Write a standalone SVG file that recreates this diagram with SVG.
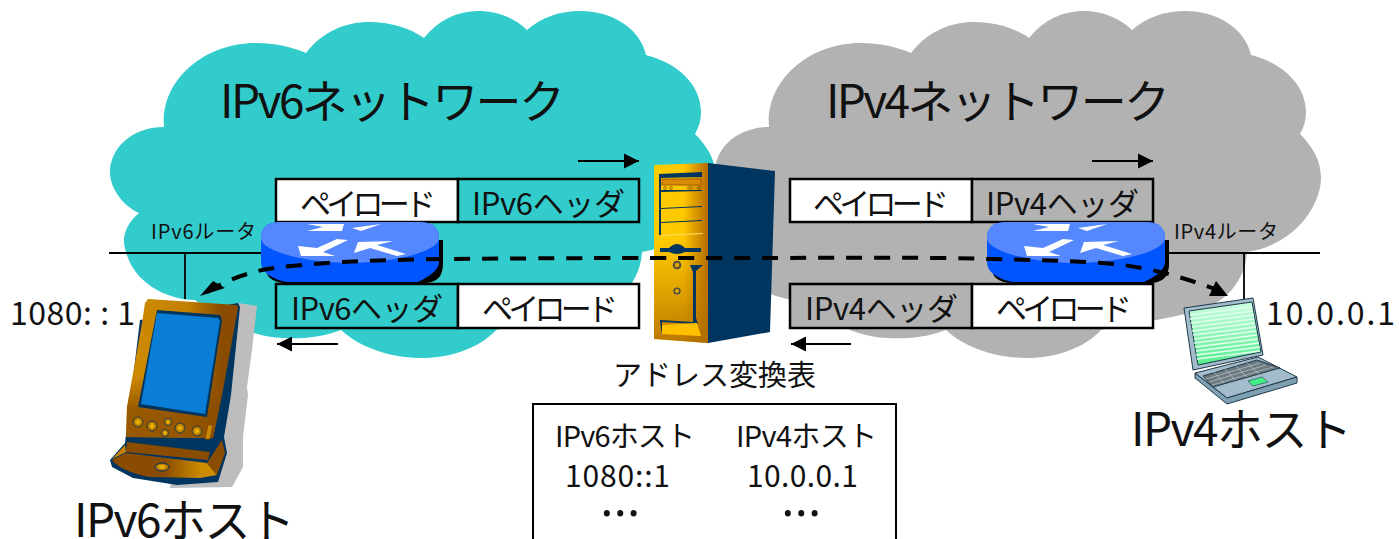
<svg xmlns="http://www.w3.org/2000/svg" width="1399" height="539" viewBox="0 0 1399 539">
<style>
text{font-family:"Noto Sans CJK JP","Noto Sans",sans-serif;fill:#111}
.box{stroke:#000;stroke-width:2.5}
.w{fill:#fff}.t{fill:#33cccc}.g{fill:#b2b2b2}
.hd{font-size:31px}.big{font-size:46px}.sm{font-size:20px}.tb{font-size:29px}.num{font-size:30px}.out{font-size:32px}
text.dots{font-family:"Open Sans",sans-serif;font-size:52px}
.wire{stroke:#000;stroke-width:1.8;fill:none}
.flow{stroke:#000;stroke-width:2;fill:none}
.dash{stroke:#000;stroke-width:4;fill:none;stroke-dasharray:16 12}
</style>
<defs>
<marker id="ah" markerUnits="userSpaceOnUse" markerWidth="16" markerHeight="16" refX="15" refY="8" orient="auto"><path d="M0,0.5L15,8L0,15.5z"/></marker>
<linearGradient id="gold" x1="0" x2="1" y1="0" y2="0"><stop offset="0" stop-color="#cf8c00"/><stop offset=".55" stop-color="#c28000"/><stop offset=".85" stop-color="#8a4c00"/></linearGradient>
<linearGradient id="goldv" x1="0" x2="0" y1="0" y2="1"><stop offset=".55" stop-color="#8a4c00" stop-opacity="0"/><stop offset=".8" stop-color="#8a4c00" stop-opacity=".8"/></linearGradient>
<linearGradient id="srv" x1="0" x2="1" y1="0" y2="0"><stop offset="0" stop-color="#ffcc00"/><stop offset=".55" stop-color="#ffc800"/><stop offset=".97" stop-color="#b87000"/></linearGradient>
<linearGradient id="srv2" x1="0" x2="0" y1="0" y2="1"><stop offset="0" stop-color="#c47e00" stop-opacity="0"/><stop offset="1" stop-color="#b06c00" stop-opacity=".9"/></linearGradient>
<linearGradient id="base" x1="0" x2="1" y1="0" y2="0"><stop offset="0" stop-color="#8a4c00"/><stop offset=".5" stop-color="#8a4c00"/><stop offset=".85" stop-color="#cc8c00"/></linearGradient>
<linearGradient id="lcd" x1="0" x2="0" y1="0" y2="1"><stop offset="0" stop-color="#ccffe0"/><stop offset="1" stop-color="#55ee8c"/></linearGradient>
<radialGradient id="btn"><stop offset="0" stop-color="#ffc800"/><stop offset="1" stop-color="#9a5c00"/></radialGradient>
<path id="cloud" d="M164,127C160,80 205,43 255,43C275,43 292,47 306,53C322,32 345,22 369,22C390,22 410,28 424,38C438,20 458,11 478,11C497,11 515,18 527,30C542,17 560,11 580,11C612,11 640,28 646,55C678,63 701,85 701,112C701,120 699,127 695,134C707,146 716,160 716,178C716,205 690,245 642,252C640,285 615,310 575,315C555,320 520,325 496,330C480,348 450,358 422,358C392,358 360,348 341,330C320,338 300,339 283,338C250,337 220,320 195,300C170,300 130,285 124,243C123,232 130,220 139,213C125,207 110,190 110,172C110,150 130,127 164,127z"/>
<g id="routerBody">
<path d="M4,18H182V42Q182,61 163,61H25Q4,61 4,42z" fill="#000"/>
<path d="M0,16Q0,0 20,0H158Q178,0 178,16V40Q178,50 157,60H25Q0,54 0,40z" fill="#0055ff"/>
<path d="M0,16Q0,0 20,0H158Q178,0 178,16C178,30 130,41 89,41C48,41 0,30 0,16z" fill="#5588ff"/>
<path fill="#fff" d="M37,24L56,26L76,17L87,18L62,30L74,34L40,34zM97,20L132,19L116,23L145,32L136,34L109,26L93,31zM46,2H83L81,9H46L62,5zM91,6L120,2L100,9z"/>
</g>
</defs>

<g id="cloud-ipv4"><use href="#cloud" class="g" x="605"/></g>
<g id="cloud-ipv6"><use href="#cloud" class="t"/></g>

<g id="label-ipv6-network"><text x="220" y="118" font-size="46" textLength="345">IPv6ネットワーク</text></g>
<g id="label-ipv4-network"><text x="826" y="118" font-size="46" textLength="344">IPv4ネットワーク</text></g>

<g id="packet-ipv6-out">
<rect class="box w" x="276" y="179" width="182" height="43"/><rect class="box t" x="458" y="179" width="181" height="43"/>
<text class="hd" x="300" y="215" textLength="136">ペイロード</text><text class="hd" x="472" y="215" textLength="153">IPv6ヘッダ</text></g>
<g id="packet-ipv6-in">
<rect class="box t" x="276" y="284" width="182" height="44"/><rect class="box w" x="458" y="284" width="181" height="44"/>
<text class="hd" x="291" y="320" textLength="152">IPv6ヘッダ</text><text class="hd" x="482" y="320" textLength="136">ペイロード</text></g>
<g id="packet-ipv4-out">
<rect class="box w" x="790" y="179" width="182" height="43"/><rect class="box g" x="972" y="179" width="181" height="43"/>
<text class="hd" x="813" y="215" textLength="136">ペイロード</text><text class="hd" x="986" y="215" textLength="153">IPv4ヘッダ</text></g>
<g id="packet-ipv4-in">
<rect class="box g" x="790" y="284" width="182" height="44"/><rect class="box w" x="972" y="284" width="181" height="44"/>
<text class="hd" x="805" y="320" textLength="153">IPv4ヘッダ</text><text class="hd" x="996" y="320" textLength="136">ペイロード</text></g>

<g id="connectors">
<path class="wire" d="M109,253H262M185,253V299M1167,253H1320M1244,253V299"/>
<path class="flow" marker-end="url(#ah)" d="M578,161H639"/>
<path class="flow" marker-end="url(#ah)" d="M1092,161H1153"/>
<path class="flow" marker-end="url(#ah)" d="M338,344H277"/>
<path class="flow" marker-end="url(#ah)" d="M851,344H791"/>
</g>

<g id="router-ipv6" transform="translate(261,222)"><use href="#routerBody"/></g>
<g id="router-ipv4" transform="translate(987,222)"><use href="#routerBody"/></g>
<g id="label-router6"><text class="sm" x="151" y="239" textLength="105">IPv6ルータ</text></g>
<g id="label-router4"><text class="sm" x="1174" y="239" textLength="104">IPv4ルータ</text></g>

<g id="server">
<path d="M708,163L775,171L770,332L708,343z" fill="#00355f"/>
<path d="M654,165L708,163V343L654,339z" fill="url(#srv)"/>
<path d="M654,240L708,238V343L654,339z" fill="url(#srv2)"/>
<path fill="#00355f" d="M659,174L702,172V177L661,178V208L702,206V207L661,209V222L702,220V221L661,223V235H659zM660,190L702,190V191L661,192zM660,248H669Q677,240 685,248H701V252H685Q677,256 669,252H660zM690,265L703,265L696,271V318L698,324L662,322L662,335L660,321L660,320L693,322V272z"/>
<path d="M661,235L703,233V234L661,236z" fill="#ffe060"/>
<rect x="662" y="179" width="39" height="6" fill="#d88a00" stroke="#a85a00"/>
<g fill="none" stroke="#8a5a00" stroke-width=".8"><circle cx="665" cy="188" r="1.4"/><circle cx="671" cy="188" r="1.4"/><ellipse cx="690" cy="188" rx="2.5" ry="1.2"/><circle cx="699" cy="188" r="1.4"/></g>
<circle cx="677" cy="265" r="3.5" fill="url(#btn)" stroke="#3a4a50" stroke-width="1.5"/>
<circle cx="677" cy="291" r="3" fill="url(#btn)" stroke="#3a4a50" stroke-width="1.2"/>
<path d="M662,325L697,323L701,336L662,334z" fill="#ffc000"/>
</g>

<g id="pda">
<path d="M238,303L257,306L252,350L247,387L248,395L243,437L243,467L232,487L170,488L200,320z" fill="#bdbdbd"/>
<path d="M238,303L240,307L231,395L224,437L227,453L218,482L177,485L133,478L112,467L110,460L125,443L140,320z" fill="#00355f"/>
<path d="M148,299L237,305L238,308L223,390L213,438L126,437L127,407L142,323L145,303z" fill="url(#gold)"/>
<path d="M148,299L237,305L238,308L223,390L213,438L126,437L127,407L142,323L145,303z" fill="url(#goldv)"/>
<path d="M157,310L220,315L222,320L207,417L138,407z" fill="#00355f"/>
<path d="M157,313L218,318L220,321L205,414L141,404z" fill="#0a7dd6"/>
<g fill="url(#btn)" stroke="#00355f" stroke-width=".7">
<circle cx="138" cy="422" r="5"/><circle cx="152" cy="426" r="5"/><circle cx="168" cy="422" r="3.6"/><circle cx="165" cy="433" r="3.6"/><circle cx="180" cy="428" r="5"/><circle cx="197" cy="431" r="5"/></g>
<path d="M208,425L213,425L210,439L205,439z" fill="#c98a00" stroke="#8a4c00"/>
<path d="M127,442L210,452L208,460L126,452z" fill="#8a4c00"/>
<path d="M125,445L112,459L126,452z" fill="#c88400"/>
<path d="M112,460L126,453L207,463L217,475L200,478L150,477Q122,472 112,460z" fill="url(#base)"/>
<path d="M207,463L222,440L225,453L217,475z" fill="#8a4c00"/>
<ellipse cx="162" cy="467" rx="7" ry="4" fill="url(#btn)" stroke="#00355f"/>
</g>

<g id="laptop" stroke="#1f3a4a" stroke-width="1">
<path d="M1184,308L1253,298L1263,355L1193,370z" fill="#a3bccc"/>
<path d="M1189,311L1252,302L1261,352L1198,365z" fill="url(#lcd)"/>
<path d="M1190,315L1252,307M1190,319L1253,311M1191,323L1254,315M1192,327L1254,319M1192,331L1255,323M1193,335L1256,327M1194,339L1256,331M1194,343L1257,335M1195,347L1258,339M1196,351L1259,343M1196,355L1260,347M1197,359L1260,351" stroke="#e4fff0" stroke-width="1.5"/>
<path d="M1195,373L1258,357L1297,377L1227,398z" fill="#a3bccc"/>
<path d="M1195,373V378L1227,404L1297,383V377L1227,398z" fill="#7f9fb2"/>
<path d="M1203,376L1257,360L1280,368L1213,387z" fill="#6d7a80"/>
<path d="M1206,379L1260,363M1209,382L1266,365M1212,385L1273,367M1214,372L1224,383M1225,369L1235,380M1236,366L1247,377M1247,363L1259,374" stroke="#c8d4da" stroke-width=".6" fill="none"/>
<path d="M1248,381L1262,377L1268,382L1253,386z" fill="#44ee88" stroke-width=".6"/>
</g>

<g id="dashed-flow"><path class="dash" d="M207,292C222,283 240,275 262,270C300,263 370,260 445,259C560,258 640,258 700,258C850,258 930,257 990,259C1040,260 1075,261 1103,263C1130,265 1165,270 1220,291"/>
<path d="M200,296L213,281L225,288z"/><path d="M1228,296L1209,296L1216,281z"/></g>

<g id="labels">
<text class="out" x="10" y="325" textLength="125">1080: : 1</text>
<text class="out" x="1266" y="325" textLength="129">10.0.0.1</text>
<text x="613" y="386" font-size="29" textLength="203">アドレス変換表</text>
</g>
<g id="label-ipv6-host"><text class="big" x="74" y="537" textLength="221">IPv6ホスト</text></g>
<g id="label-ipv4-host"><text class="big" x="1131" y="446" textLength="221">IPv4ホスト</text></g>

<g id="table">
<rect x="533" y="404" width="363" height="150" fill="#fff" stroke="#000" stroke-width="2"/>
<text class="tb" x="555" y="447" textLength="140">IPv6ホスト</text>
<text class="tb" x="736" y="447" textLength="141">IPv4ホスト</text>
<text class="num" x="565" y="487" textLength="105">1080::1</text>
<text class="num" x="747" y="487" textLength="111">10.0.0.1</text>
<text class="dots" x="600" y="516">…</text>
<text class="dots" x="781" y="516">…</text>
</g>
</svg>
